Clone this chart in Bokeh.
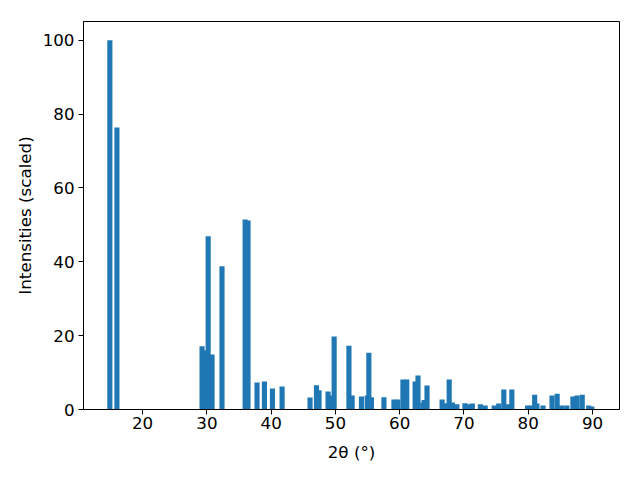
from bokeh.plotting import figure
from bokeh.models import Range1d, FixedTicker
from bokeh.embed import file_html
from bokeh.resources import INLINE

two_theta = [14.9, 16.0, 29.25, 29.6, 30.2, 30.8, 32.35, 35.95, 36.4, 37.8, 38.95,
             40.2, 41.7, 46.05, 47.05, 47.45, 48.85, 49.3, 49.8, 52.1, 52.6, 54.05,
             54.95, 55.2, 55.6, 57.55, 59.1, 59.7, 60.5, 61.1, 62.4, 62.85, 63.6,
             63.8, 64.25, 66.6, 67.3, 67.7, 68.2, 68.9, 70.15, 70.8, 71.3, 72.55,
             73.3, 74.7, 75.4, 76.2, 76.8, 77.45, 79.9, 80.5, 81.0, 81.35, 82.3,
             83.7, 84.5, 85.2, 86.0, 86.95, 87.6, 88.4, 89.4, 89.9]
intensity = [100, 76.4, 17.1, 16.0, 46.9, 14.9, 38.8, 51.5, 51.2, 7.3, 7.6,
             5.7, 6.2, 3.25, 6.6, 5.2, 4.9, 3.8, 19.8, 17.3, 3.8, 3.5,
             3.8, 15.4, 3.3, 3.3, 2.7, 2.7, 8.1, 8.1, 7.6, 9.2, 1.9,
             2.6, 6.5, 2.7, 1.7, 8.1, 1.9, 1.4, 1.7, 1.4, 1.6, 1.4,
             1.1, 1.1, 1.6, 5.4, 1.4, 5.4, 1.1, 1.1, 4.0, 1.6, 1.1,
             3.8, 4.3, 1.1, 1.1, 3.5, 3.8, 4.0, 1.1, 0.8]
x_ticks = [20, 30, 40, 50, 60, 70, 80, 90]
y_ticks = [0, 20, 40, 60, 80, 100]

p = figure(width=624, height=464, output_backend="svg", toolbar_location=None,
           x_range=Range1d(10.8, 94.2), y_range=Range1d(0, 105.1),
           min_border_left=83, min_border_right=5, min_border_top=21, min_border_bottom=55)

p.vbar(x=two_theta, top=intensity, width=0.8, bottom=0, color="#1f77b4", line_color=None)

p.grid.visible = False
p.outline_line_color = "black"
p.outline_line_width = 1

for ax in (p.xaxis[0], p.yaxis[0]):
    ax.major_label_text_font = "DejaVu Sans"
    ax.major_label_text_font_size = "16.7px"
    ax.axis_label_text_font = "DejaVu Sans"
    ax.axis_label_text_font_size = "16.7px"
    ax.axis_label_text_font_style = "normal"
    ax.minor_tick_line_color = None
    ax.major_tick_out = 5
    ax.major_tick_in = 0
    ax.axis_line_color = "black"
    ax.major_label_text_color = "black"
    ax.axis_label_text_color = "black"

p.xaxis.ticker = FixedTicker(ticks=x_ticks)
p.yaxis.ticker = FixedTicker(ticks=y_ticks)
p.xaxis.axis_label = "2θ (°)"
p.yaxis.axis_label = "Intensities (scaled)"
p.xaxis.major_label_standoff = 2
p.yaxis.major_label_standoff = 4
p.xaxis.axis_label_standoff = 10
p.yaxis.axis_label_standoff = 5

open("out.html", "w").write(file_html(p, INLINE))
